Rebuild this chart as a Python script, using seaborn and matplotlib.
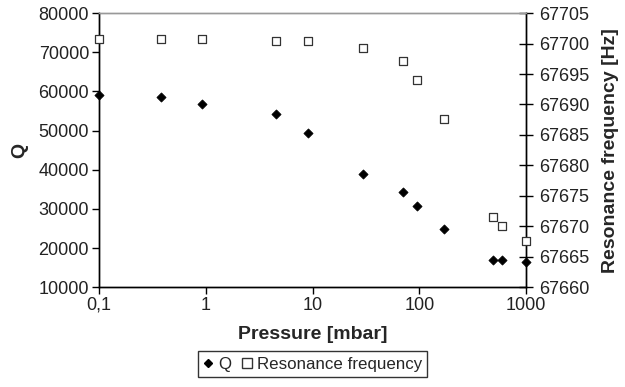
import numpy as np
import pandas as pd
import matplotlib
matplotlib.use("Agg")
import matplotlib.pyplot as plt
import matplotlib.ticker as mticker
from matplotlib.lines import Line2D
import seaborn as sns

# values
pressure = [0.1, 0.38, 0.93, 4.55, 9.0, 30, 70, 95, 170, 490, 590, 1000]
q_factor = [59050, 58700, 56900, 54200, 49400, 38950, 34300, 30700, 24900, 16900, 16900, 16400]
res_freq = [67700.7, 67700.8, 67700.8, 67700.5, 67700.4, 67699.3, 67697.2, 67694.1,
            67687.6, 67671.5, 67670.1, 67667.6]
x_ticks = [0.1, 1, 10, 100, 1000]
x_tick_labels = ["0,1", "1", "10", "100", "1000"]

df = pd.DataFrame({"Pressure": pressure, "Q": q_factor, "Freq": res_freq})

sns.set_style("white")
plt.rcParams["font.family"] = ["Liberation Sans", "DejaVu Sans"]
plt.rcParams["font.size"] = 13

fig, ax = plt.subplots(figsize=(6.25, 3.87), dpi=100)
fig.subplots_adjust(left=0.158, right=0.842, top=0.966, bottom=0.258)
ax2 = ax.twinx()

sns.scatterplot(data=df, x="Pressure", y="Q", ax=ax, marker="D", s=22,
                color="black", edgecolor="black", linewidth=0.5, zorder=3, clip_on=False)
sns.scatterplot(data=df, x="Pressure", y="Freq", ax=ax2, marker="s", s=40,
                facecolor="white", edgecolor="#333333", linewidth=0.9, zorder=3,
                clip_on=False)

ax.set_xscale("log")
ax.set_xlim(0.1, 1000)
ax.set_ylim(10000, 80000)
ax2.set_ylim(67660, 67705)
ax.set_xticks(x_ticks)
ax.xaxis.set_major_formatter(mticker.FixedFormatter(x_tick_labels))
ax.xaxis.set_minor_locator(mticker.NullLocator())
ax.set_yticks(np.arange(10000, 80001, 10000))
ax2.set_yticks(np.arange(67660, 67706, 5))
ax2.yaxis.set_major_formatter(mticker.FormatStrFormatter("%d"))

for a in (ax, ax2):
    for s in a.spines.values():
        s.set_linewidth(1.0)
        s.set_color("black")
    a.spines["top"].set_color("#999999")
    a.grid(False)

ax.tick_params(axis="both", direction="out", length=5, width=1, colors="black",
               labelcolor="#222222", labelsize=13, pad=2, left=True, bottom=True)
ax2.tick_params(axis="y", direction="inout", length=10, width=1, colors="black",
                labelcolor="#222222", labelsize=13, pad=4, right=True)

ax.set_xlabel("Pressure [mbar]", fontsize=14, fontweight="bold", labelpad=9)
ax.set_ylabel("Q", fontsize=14, fontweight="bold", labelpad=7)
ax2.set_ylabel("Resonance frequency [Hz]", fontsize=14, fontweight="bold", labelpad=9)

handles = [
    Line2D([], [], marker="D", linestyle="none", color="black", markersize=4.5),
    Line2D([], [], marker="s", linestyle="none", markerfacecolor="white",
           markeredgecolor="#333333", markersize=6.5),
]
leg = fig.legend(handles, ["Q", "Resonance frequency"], loc="lower center",
                 bbox_to_anchor=(0.5, 0.005), ncol=2, frameon=True, fancybox=False,
                 handlelength=0.6, handletextpad=0.3, columnspacing=0.6,
                 borderpad=0.3, fontsize=12.2)
leg.get_frame().set_edgecolor("black")
leg.get_frame().set_linewidth(1.0)

fig.savefig("out.png", dpi=100)
